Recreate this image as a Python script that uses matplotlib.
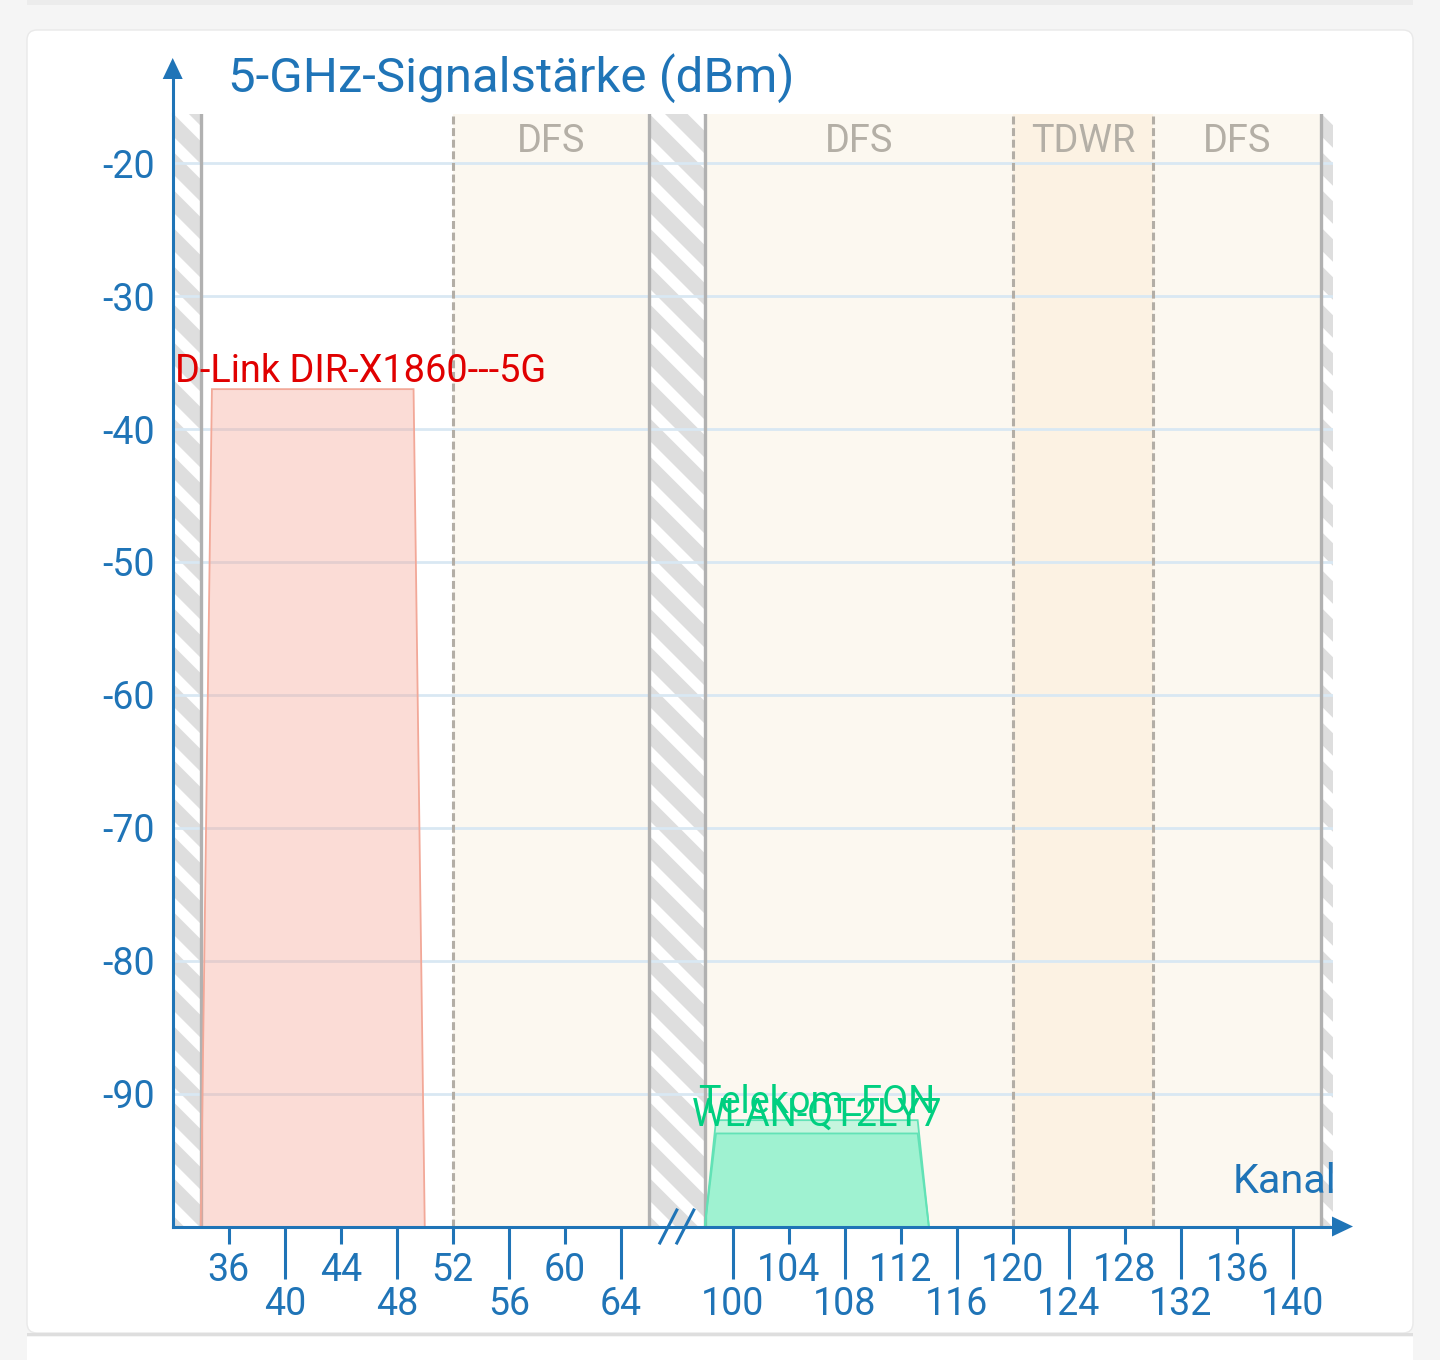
import numpy as np
import matplotlib
matplotlib.use("Agg")
import matplotlib.pyplot as plt
from matplotlib.patches import Rectangle, Polygon, FancyBboxPatch
from matplotlib.collections import LineCollection
from matplotlib.transforms import IdentityTransform, blended_transform_factory, offset_copy
from matplotlib.lines import Line2D

plt.rcParams['font.family'] = ['Roboto', 'DejaVu Sans']

# ---------------- data ----------------
networks = ["D-Link DIR-X1860---5G", "Telekom_FON", "WLAN-QT2LY7"]
net_center = [42, 106, 106]          # centre channel
net_span = [16, 16, 16]              # width in channels (80 MHz)
net_dbm = [-37, -92, -93]
net_text_colors = ["#e00000", "#00cf80", "#00cf80"]
net_fill_colors = ["#f7a595", "#37edb0", "#37edb0"]
net_fill_alpha = [0.38, 0.27, 0.27]
net_edge_colors = ["#f2a898", "#62e2b6", "#62e2b6"]

ticks_upper = [36, 44, 52, 60, 104, 112, 120, 128, 136]
ticks_lower = [40, 48, 56, 64, 100, 108, 116, 124, 132, 140]
y_ticks = [-20, -30, -40, -50, -60, -70, -80, -90]

X_LIM = (32, 142.86)
blocked_start = [32, 66, 142]
blocked_end = [34, 98, X_LIM[1]]
zone_start = [52, 98, 120, 130]
zone_end = [66, 120, 130, 142]
zone_labels = ["DFS", "DFS", "TDWR", "DFS"]
zone_colors = ["#fcf8f0", "#fcf8f0", "#fcf2e3", "#fcf8f0"]
solid_edges = [34, 66, 98, 142]
dashed_edges = [52, 120, 130]

title = "5-GHz-Signalstärke (dBm)"
xlabel = "Kanal"

BLUE = "#1f74b7"
FLOOR = -100
Y_LIM = (FLOOR, -16.3)

# axis break: channels 66..98 compressed to 4 units
bx = [0, 66, 98, 200]
by = [0, 66, 70, 172]
fwd = lambda x: np.interp(x, bx, by)
inv = lambda y: np.interp(y, by, bx)

W, H = 1440, 1360
fig = plt.figure(figsize=(W / 100, H / 100), dpi=100, facecolor="#f5f5f5")

# card background
fig.add_artist(Rectangle((27, H - 5), 1386, 5, transform=IdentityTransform(),
                         facecolor="#ececec", edgecolor="none", zorder=-10))
fig.add_artist(FancyBboxPatch((27, H - 1333), 1386, 1303,
                              boxstyle="round,pad=0,rounding_size=10",
                              transform=IdentityTransform(), facecolor="white",
                              edgecolor="#e9e9e9", lw=1, zorder=-9))
fig.add_artist(Rectangle((27, H - 1336), 1386, 3.5, transform=IdentityTransform(),
                         facecolor="#dedede", edgecolor="none", zorder=-8))
fig.add_artist(Rectangle((27, 0), 1386, H - 1336.5, transform=IdentityTransform(),
                         facecolor="white", edgecolor="none", zorder=-8))

ax_l, ax_r, ax_t, ax_b = 172.7, 1333.0, 114.0, 1226.5
ax = fig.add_axes([ax_l / W, (H - ax_b) / H, (ax_r - ax_l) / W, (ax_b - ax_t) / H])
ax.set_facecolor("none")
ax.set_xscale("function", functions=(fwd, inv))
ax.set_xlim(*X_LIM)
ax.set_ylim(*Y_LIM)

# zones
for s, e, c in zip(zone_start, zone_end, zone_colors):
    ax.axvspan(s, e, facecolor=c, edgecolor="none", zorder=0)

# blocked (hatched) bands
for a, b in zip(blocked_start, blocked_end):
    rect = Rectangle((a, Y_LIM[0]), b - a, Y_LIM[1] - Y_LIM[0], facecolor="white",
                     edgecolor="none", zorder=0.2)
    ax.add_patch(rect)
    x0, y0 = ax.transData.transform((a, Y_LIM[0]))
    x1, y1 = ax.transData.transform((b, Y_LIM[1]))
    period = 38.0
    segs = []
    c = x0 + y0 - 2 * period
    while c < x1 + y1 + 2 * period:
        xa, xb = x0 - 60, x1 + 60
        segs.append([(xa, c - xa), (xb, c - xb)])
        c += period
    lc = LineCollection(segs, colors="#dedede", linewidths=11.5,
                        transform=IdentityTransform(), zorder=0.3)
    ax.add_collection(lc)
    lc.set_clip_path(rect)

# grid
for yv in y_ticks:
    ax.axhline(yv, color="#d9e8f3", lw=2.0, zorder=1)

for xv in solid_edges:
    ax.axvline(xv, color="#b1b1b1", lw=2.4, zorder=2)
for xv in dashed_edges:
    ax.axvline(xv, color="#b3aea6", lw=2.2, ls=(0, (2.6, 1.2)), zorder=2)

# zone labels
tz = offset_copy(blended_transform_factory(ax.transData, ax.transAxes), fig=fig,
                 x=0, y=-37.7, units="dots")
for s, e, lab in zip(zone_start, zone_end, zone_labels):
    ax.text((s + e) / 2, 1, lab, transform=tz, ha="center", va="baseline",
            fontsize=27.3, color="#b4afa6", zorder=2.5)

# networks
inset = 0.8
text_objs = []
for name, cch, sp, db, tc, fc, fa, ec in zip(networks, net_center, net_span, net_dbm,
                                             net_text_colors, net_fill_colors,
                                             net_fill_alpha, net_edge_colors):
    lo, hi = cch - sp / 2, cch + sp / 2
    verts = [(lo, FLOOR), (lo + inset, db), (hi - inset, db), (hi, FLOOR)]
    ax.add_patch(Polygon(verts, closed=True, facecolor=fc, alpha=fa,
                         edgecolor="none", zorder=3))
    ax.add_patch(Polygon(verts, closed=False, facecolor="none", edgecolor=ec,
                         lw=1.3, zorder=3.1))
    t = ax.text(cch, db, name,
                transform=offset_copy(ax.transData, fig=fig, x=0, y=7.3, units="dots"),
                ha="center", va="baseline", fontsize=27.3, color=tc, zorder=5, clip_on=False)
    text_objs.append(t)

# spines and ticks
for side in ["top", "right"]:
    ax.spines[side].set_visible(False)
for side in ["left", "bottom"]:
    ax.spines[side].set_color(BLUE)
    ax.spines[side].set_linewidth(2.2)
    ax.spines[side].set_zorder(6)

ax.set_xticks(ticks_upper, labels=[str(v) for v in ticks_upper])
ax.set_xticks(ticks_lower, labels=[str(v) for v in ticks_lower], minor=True)
ax.tick_params(axis="x", which="major", length=12.2, width=2.2, color=BLUE,
               labelsize=27, labelcolor=BLUE, pad=6.0)
ax.tick_params(axis="x", which="minor", length=37.4, width=2.2, color=BLUE,
               labelsize=27, labelcolor=BLUE, pad=5.4)
ax.set_yticks(y_ticks, labels=[str(v) for v in y_ticks])
ax.tick_params(axis="y", which="both", length=0, labelsize=27, labelcolor=BLUE, pad=12.7)
ax.yaxis.set_minor_locator(matplotlib.ticker.NullLocator())

# axis arrows
ox, oy = ax.transAxes.transform((0, 1))
fig.add_artist(Line2D([ox, ox], [oy - 2, oy + 36], transform=IdentityTransform(),
                      color=BLUE, lw=2.2, solid_capstyle="butt"))
fig.add_artist(Polygon([(ox - 10, oy + 35), (ox + 10, oy + 35), (ox, oy + 56)],
                       transform=IdentityTransform(), facecolor=BLUE, edgecolor="none"))
rx, ry = ax.transAxes.transform((1, 0))
fig.add_artist(Polygon([(rx - 1, ry - 10), (rx - 1, ry + 10), (rx + 20, ry)],
                       transform=IdentityTransform(), facecolor=BLUE, edgecolor="none"))

# break marks
bxp, byp = ax.transData.transform((82, FLOOR))
for dx in (-8.5, 8.5):
    fig.add_artist(Line2D([bxp + dx - 8.5, bxp + dx + 8.5], [byp - 16.5, byp + 16.5],
                          transform=IdentityTransform(), color=BLUE, lw=2.2))

# axis titles
fig.text(228 / W, 1 - 92 / H, title, fontsize=35.5, color=BLUE, ha="left", va="baseline")
ax.text(1, 0, xlabel, transform=offset_copy(ax.transAxes, fig=fig, x=3, y=33.5, units="dots"),
        ha="right", va="baseline", fontsize=29.8, color=BLUE, zorder=6)

# keep network labels inside the plot horizontally
fig.canvas.draw()
renderer = fig.canvas.get_renderer()
for t in text_objs:
    bb = t.get_window_extent(renderer)
    if bb.x0 < ox + 2:
        t.set_ha("left")
        t.set_x(ax.transData.inverted().transform((ox + 2, 0))[0])

fig.savefig("out.png", dpi=100, facecolor=fig.get_facecolor())
